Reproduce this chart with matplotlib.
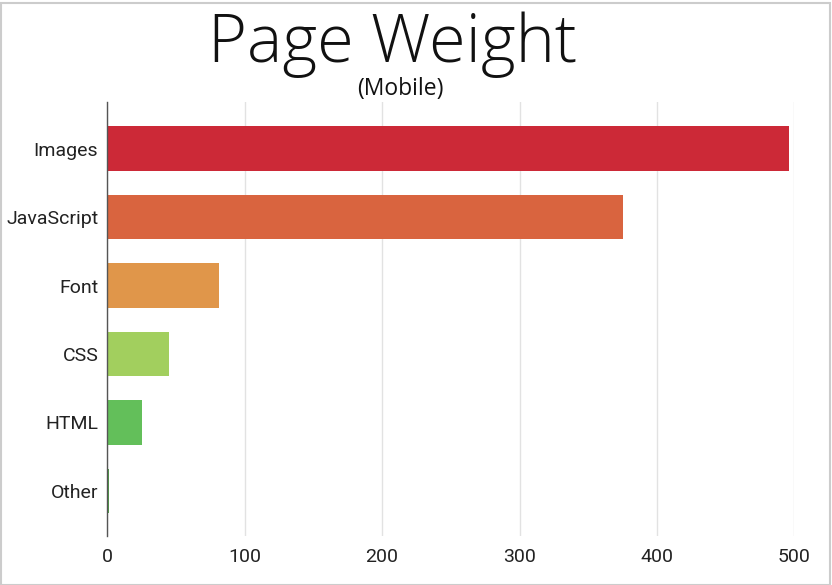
import matplotlib
matplotlib.use('Agg')
import matplotlib.pyplot as plt
from matplotlib.patches import Rectangle

# data
categories = ['Images', 'JavaScript', 'Font', 'CSS', 'HTML', 'Other']
weights = [496, 375, 81, 45, 25.5, 1.2]
colors = ['#CC2937', '#D9643F', '#E0964A', '#A2CF5E', '#63BF5A', '#4E9A45']
xticks = [0, 100, 200, 300, 400, 500]

W, H = 832, 585
fig = plt.figure(figsize=(W / 100, H / 100), dpi=100)
ax = fig.add_axes([107.3 / W, 1 - 536 / H, (794.3 - 107.3) / W, (536 - 102) / H])

y = list(range(len(categories)))
ax.barh(y, weights, height=0.65, color=colors, edgecolor='none', zorder=3)
ax.set_yticks(y)
ax.set_yticklabels(categories)
ax.set_ylim(5.657, -0.679)
ax.set_xlim(0, 500)
ax.set_xticks(xticks)
ax.grid(axis='x', color='#e2e2e2', linewidth=1, zorder=0)
for s in ['top', 'right', 'bottom']:
    ax.spines[s].set_visible(False)
ax.spines['left'].set_color('#555555')
ax.spines['left'].set_linewidth(1)
ax.spines['left'].set_zorder(4)
ax.tick_params(length=0, labelsize=14, colors='#222222')
ax.tick_params(axis='y', pad=6.5)
ax.tick_params(axis='x', pad=9)
for lab in ax.get_xticklabels() + ax.get_yticklabels():
    lab.set_fontfamily('Roboto')

fig.text(393 / W, 1 - 61.7 / H, 'Page Weight', ha='center', va='baseline',
         fontsize=48, fontfamily='Open Sans', fontweight='light', color='#111111')
fig.text(400 / W, 1 - 95 / H, '(Mobile)', ha='center', va='baseline',
         fontsize=16.5, fontfamily='Open Sans', color='#111111')

fig.patches.append(Rectangle((0.5 / W, 0.5 / H), 1 - 3 / W, 1 - 3 / H,
                             transform=fig.transFigure, fill=False,
                             edgecolor='#cccccc', linewidth=1.5))

fig.savefig('out.png', dpi=100, facecolor='white')
